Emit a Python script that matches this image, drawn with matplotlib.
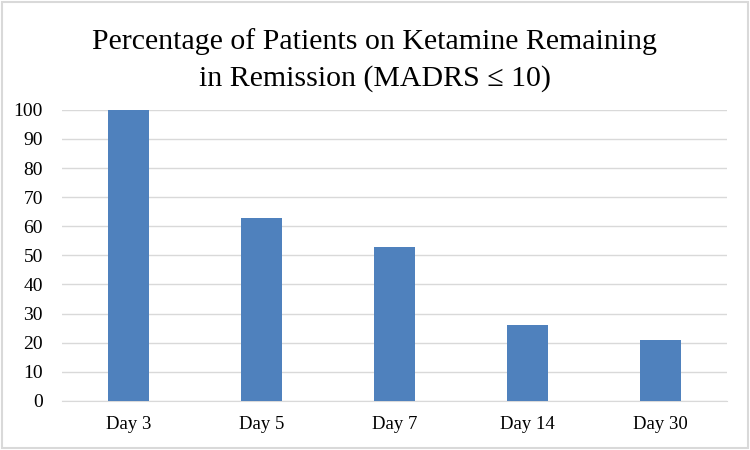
import matplotlib.pyplot as plt
from matplotlib.patches import Rectangle

days = ["Day 3", "Day 5", "Day 7", "Day 14", "Day 30"]
remission_pct = [100, 63, 53, 26, 21]
y_ticks = [0, 10, 20, 30, 40, 50, 60, 70, 80, 90, 100]

plt.rcParams['font.family'] = ['Liberation Serif', 'DejaVu Serif']

fig = plt.figure(figsize=(7.5, 4.5), dpi=100)
ax = fig.add_axes([0.083, 0.109, 0.886, 0.647])

ax.bar(days, remission_pct, width=0.31, color='#4F81BD', zorder=3)

ax.set_ylim(0, 100)
ax.set_xlim(-0.5, len(days) - 0.5)
ax.set_yticks(y_ticks)
ax.yaxis.grid(True, color='#D9D9D9', linewidth=1, zorder=0)
ax.tick_params(axis='both', length=0, colors='black')
ax.tick_params(axis='x', pad=11, labelsize=13.5)
ax.tick_params(axis='y', pad=14, labelsize=14)
for side in ['top', 'right', 'left']:
    ax.spines[side].set_visible(False)
ax.spines['bottom'].set_color('#D9D9D9')

fig.text(0.5, 0.866, "Percentage of Patients on Ketamine Remaining\nin Remission (MADRS \u2264 10)",
         ha='center', va='center', fontsize=21.5, linespacing=1.5)

fig.patches.append(Rectangle((0.003, 0.004), 0.994, 0.992, transform=fig.transFigure,
                             fill=False, edgecolor='#D9D9D9', linewidth=1.5))

fig.savefig("out.png", dpi=100)
